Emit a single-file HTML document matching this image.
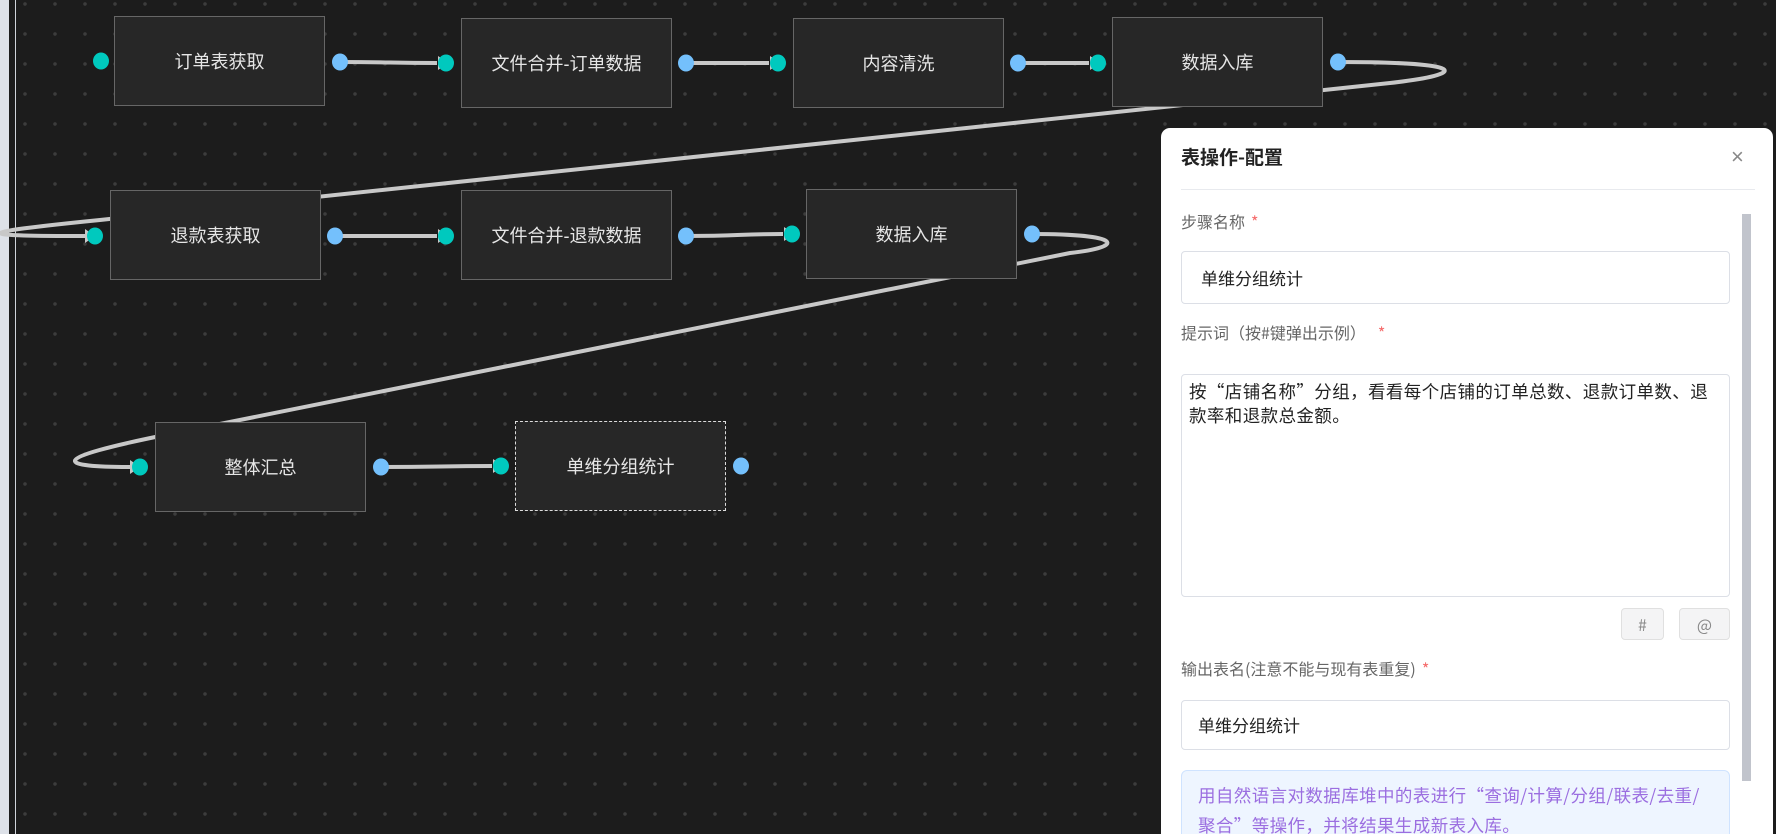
<!DOCTYPE html>
<html style="height:834px;overflow:hidden"><head><meta charset="utf-8"><style>
*{margin:0;padding:0;box-sizing:border-box}
body{width:1776px;height:834px;overflow:hidden;position:relative;background:#1c1c1c;font-family:"Liberation Sans","Noto Sans CJK SC",sans-serif}
.strip{position:absolute;left:0;top:0;width:9px;height:834px;background:#dde1e8}
.vline{position:absolute;left:15px;top:0;width:1px;height:834px;background:#cfd3da}
.grid{position:absolute;left:16px;top:0;right:0;bottom:0;background-image:radial-gradient(circle,#3c3c3c 1.6px,transparent 2px);background-size:30px 30px;background-position:-6px -11px}
.node{position:absolute;background:#272727;border:1px solid #666;color:#e6e6e6;font-size:18px;display:flex;align-items:center;justify-content:center}
.panel{position:absolute;left:1161px;top:128px;width:612px;height:706px;background:#fff;border-radius:9px 9px 0 0;overflow:hidden;font-family:"Noto Sans CJK SC","Liberation Sans",sans-serif}
.ab{position:absolute}
.lbl{position:absolute;left:20px;font-size:16px;color:#666}
.lbl b{color:#f56c6c;font-weight:normal;margin-left:6px}
.inp{position:absolute;left:20px;width:549px;border:1px solid #dcdfe6;border-radius:4px;font-size:16px;color:#222}
.btn{position:absolute;top:480px;height:32px;border:1px solid #e0e0e0;background:#f4f4f5;border-radius:4px;color:#888;font-size:16px;display:flex;align-items:center;justify-content:center}
</style></head><body>
<div class="strip"></div><div class="vline"></div><div class="grid"></div>
<svg class="ab" style="left:0;top:0" width="1776" height="834">
<g fill="none" stroke="#c8c8c8" stroke-width="4">
<path d="M1338,62 C1470,62 1470,74 1390,83 L100,220 C-40,234 -20,236 86,236"/>
<path d="M1032,234 C1125,234 1125,247 1070,253 L170,434 C40,460 60,467 131,467"/>
<path d="M340,62 C390,62 390,63 437,63"/>
<path d="M686,63 C730,63 730,63 769,63"/>
<path d="M1018,63 C1060,63 1060,63 1089,63"/>
<path d="M335,236 C390,236 390,236 437,236"/>
<path d="M686,236 C740,236 740,234 783,234"/>
<path d="M381,467 C440,467 440,466 492,466"/>
</g>
<g fill="#c8c8c8">
<path d="M438,56 L438,70 L448,63Z"/><path d="M770,56 L770,70 L780,63Z"/><path d="M1090,56 L1090,70 L1100,63Z"/>
<path d="M85,229 L85,243 L95,236Z"/><path d="M438,229 L438,243 L448,236Z"/><path d="M784,227 L784,241 L794,234Z"/>
<path d="M130,460 L130,474 L140,467Z"/><path d="M493,459 L493,473 L503,466Z"/>
</g>
</svg>
<div class="node" style="left:114px;top:16px;width:211px;height:90px">订单表获取</div>
<div class="node" style="left:461px;top:18px;width:211px;height:90px">文件合并-订单数据</div>
<div class="node" style="left:793px;top:18px;width:211px;height:90px">内容清洗</div>
<div class="node" style="left:1112px;top:17px;width:211px;height:90px">数据入库</div>
<div class="node" style="left:110px;top:190px;width:211px;height:90px">退款表获取</div>
<div class="node" style="left:461px;top:190px;width:211px;height:90px">文件合并-退款数据</div>
<div class="node" style="left:806px;top:189px;width:211px;height:90px">数据入库</div>
<div class="node" style="left:155px;top:422px;width:211px;height:90px">整体汇总</div>
<div class="node" style="left:515px;top:421px;width:211px;height:90px;border:1px dashed #ddd">单维分组统计</div>
<svg class="ab" style="left:0;top:0" width="1776" height="834">
<g fill="#00c9be">
<ellipse cx="101" cy="61" rx="8" ry="8.5"/><ellipse cx="446" cy="63" rx="8" ry="8.5"/><ellipse cx="778" cy="63" rx="8" ry="8.5"/><ellipse cx="1098" cy="63" rx="8" ry="8.5"/>
<ellipse cx="95" cy="236" rx="8" ry="8.5"/><ellipse cx="446" cy="236" rx="8" ry="8.5"/><ellipse cx="792" cy="234" rx="8" ry="8.5"/>
<ellipse cx="140" cy="467" rx="8" ry="8.5"/><ellipse cx="501" cy="466" rx="8" ry="8.5"/>
</g>
<g fill="#74c0fc">
<ellipse cx="340" cy="62" rx="8" ry="8.5"/><ellipse cx="686" cy="63" rx="8" ry="8.5"/><ellipse cx="1018" cy="63" rx="8" ry="8.5"/><ellipse cx="1338" cy="62" rx="8" ry="8.5"/>
<ellipse cx="335" cy="236" rx="8" ry="8.5"/><ellipse cx="686" cy="236" rx="8" ry="8.5"/><ellipse cx="1032" cy="234" rx="8" ry="8.5"/>
<ellipse cx="381" cy="467" rx="8" ry="8.5"/><ellipse cx="741" cy="466" rx="8" ry="8.5"/>
</g>
</svg>
<div class="panel">
<div class="ab" style="left:20px;top:15px;font-size:19px;font-weight:bold;color:#222">表操作-配置</div>
<div class="ab" style="left:570px;top:16px;font-size:22px;color:#888;font-family:'Liberation Sans',sans-serif">×</div>
<div class="ab" style="left:20px;top:61px;width:574px;height:1px;background:#e8eaee"></div>
<div class="ab" style="left:581px;top:86px;width:9px;height:567px;background:#c1c4cc"></div>
<div class="lbl" style="top:81px">步骤名称<b>*</b></div>
<div class="inp" style="top:123px;height:53px;padding:13px 0 0 19px;font-size:17px">单维分组统计</div>
<div class="lbl" style="top:192px">提示词（按#键弹出示例）<b style="margin-left:12px">*</b></div>
<div class="inp" style="top:246px;height:223px;padding:5px 8px 0 7px;line-height:24px;font-size:17.5px;letter-spacing:0.4px">按“店铺名称”分组，看看每个店铺的订单总数、退款订单数、退款率和退款总金额。</div>
<div class="btn" style="left:460px;width:43px">#</div>
<div class="btn" style="left:518px;width:51px">@</div>
<div class="lbl" style="top:528px">输出表名(注意不能与现有表重复)<b>*</b></div>
<div class="inp" style="top:572px;height:50px;padding:11px 0 0 16px;font-size:17px">单维分组统计</div>
<div class="ab" style="left:20px;top:642px;width:549px;height:100px;background:#eef5ff;border:1px solid #cfe3ff;border-radius:6px;padding:10px 14px 0 16px;color:#9b6ee0;font-size:17.5px;letter-spacing:0.4px;line-height:30px">用自然语言对数据库堆中的表进行“查询/计算/分组/联表/去重/聚合”等操作，并将结果生成新表入库。</div>
</div>
</body></html>
